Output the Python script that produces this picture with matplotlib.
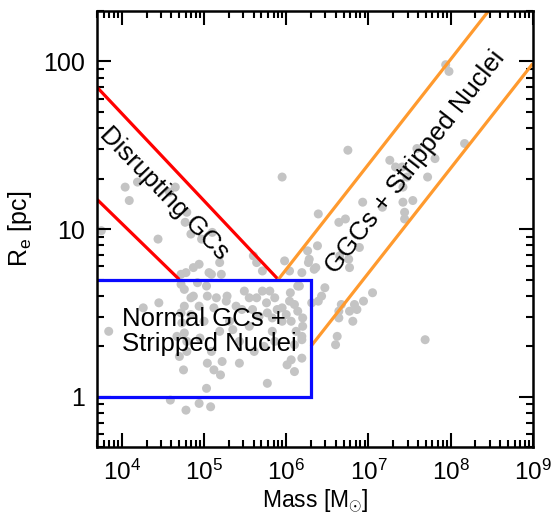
import numpy as np
import matplotlib
matplotlib.use("Agg")
import matplotlib.pyplot as plt
import matplotlib.transforms as mtransforms
from matplotlib.ticker import FixedLocator, FixedFormatter, NullFormatter, LogLocator

plt.rcParams['font.family'] = ['Liberation Sans', 'DejaVu Sans']
plt.rcParams['mathtext.fontset'] = 'custom'
plt.rcParams['mathtext.rm'] = 'Liberation Sans'
plt.rcParams['mathtext.it'] = 'Liberation Sans:italic'
plt.rcParams['mathtext.bf'] = 'Liberation Sans:bold'

# ---- data (log10 mass [Msun], log10 Re [pc]) ----
log_mass = [
    4.04, 4.09, 4.19, 4.65, 4.58, 4.44, 4.79, 4.77, 4.84, 4.97, 5.10, 3.75,
    4.94, 4.78, 4.72, 4.87, 5.95, 5.60, 5.71, 5.09, 5.21, 5.19, 5.06, 5.64,
    5.98, 6.04, 6.28, 6.34,
    6.75, 6.39, 6.64, 6.72, 6.93, 7.26, 7.33, 7.41, 7.59, 7.81, 7.72, 7.47,
    7.42, 7.54, 7.42, 7.44, 7.44, 7.17, 8.17, 7.94, 7.98, 7.69, 6.89, 6.38,
    6.26, 6.27, 6.36, 6.76, 6.77, 6.65, 6.19, 6.47, 6.43, 6.39, 6.31, 6.67,
    6.77, 6.83, 6.94, 7.05, 6.81, 6.64, 6.64, 6.62, 6.60, 6.86,
    6.14, 6.05, 6.04, 6.10, 6.14, 5.95, 6.00, 6.20, 6.20, 6.06, 6.12, 6.19,
    5.86, 5.83, 5.83, 6.16, 6.19, 6.10, 6.06, 6.19, 6.10, 6.01, 5.77,
    4.92, 5.03, 4.72, 4.76, 5.49, 5.71, 5.80, 4.84, 5.04, 5.15, 5.28, 5.27,
    5.55, 5.64, 5.76, 4.76, 4.94, 5.12, 5.39, 5.46, 5.59, 5.77, 5.89, 4.72,
    4.84, 4.73, 4.76, 4.67, 4.79, 4.70, 4.79, 5.09, 5.22, 5.04, 5.12, 5.43,
    4.75, 5.20, 5.03, 3.84, 4.26, 4.45, 4.87,
    4.59, 4.78, 4.94, 5.08,
    5.31, 5.55, 5.67, 5.43, 5.73, 5.19, 5.86, 5.61, 5.95, 5.35, 5.00, 4.95,
]
log_re = [
    1.25, 1.17, 1.28, 1.25, 1.22, 0.94, 1.10, 1.04, 0.97, 0.94, 0.98, 0.99,
    0.79, 0.74, 0.73, 0.77, 1.31, 0.84, 0.75, 0.73, 0.73, 0.80, 0.74, 0.80,
    0.81, 0.75, 0.82, 0.76,
    1.47, 1.09, 1.04, 1.06, 1.16, 1.41, 1.37, 1.37, 1.48, 1.42, 1.31, 1.31,
    1.25, 1.17, 1.16, 1.10, 1.06, 1.13, 1.51, 1.98, 1.94, 0.34, 0.89, 0.90,
    0.87, 0.80, 0.77, 0.82, 0.77, 0.84, 0.74, 0.65, 0.60, 0.57, 0.56, 0.55,
    0.51, 0.55, 0.57, 0.62, 0.45, 0.51, 0.47, 0.36, 0.31, 0.52,
    0.66, 0.62, 0.57, 0.55, 0.51, 0.53, 0.49, 0.47, 0.42, 0.45, 0.39, 0.36,
    0.59, 0.47, 0.39, 0.66, 0.34, 0.31, 0.22, 0.23, 0.15, 0.19, 0.08,
    0.68, 0.66, 0.67, 0.64, 0.63, 0.63, 0.63, 0.59, 0.60, 0.59, 0.60, 0.57,
    0.59, 0.59, 0.56, 0.54, 0.54, 0.53, 0.54, 0.52, 0.52, 0.50, 0.52, 0.50,
    0.49, 0.44, 0.38, 0.36, 0.33, 0.24, 0.27, 0.27, 0.21, 0.20, 0.16, 0.20,
    0.16, 0.13, 0.05, 0.39, 0.53, 0.56, 0.60,
    -0.02, -0.08, -0.04, -0.06,
    0.45, 0.42, 0.48, 0.33, 0.30, 0.39, 0.33, 0.27, 0.45, 0.40, 0.45, 0.35,
]

# region boundaries (mass, Re)
red_upper_mass = [5e3, 8e5]
red_upper_re = [70, 5]
red_lower_mass = [5e3, 5e4]
red_lower_re = [15, 5]
orange_upper_mass = [8e5, 2.9e8]
orange_upper_re = [5, 200]
orange_lower_mass = [2e6, 1e9]
orange_lower_re = [2, 97]
box_mass = [5e3, 2e6, 2e6, 5e3]
box_re = [5, 5, 1, 1]

x_ticks = [1e4, 1e5, 1e6, 1e7, 1e8, 1e9]
x_tick_labels = [r'$10^4$', r'$10^5$', r'$10^6$', r'$10^7$', r'$10^8$', r'$10^9$']
y_ticks = [1, 10, 100]
y_tick_labels = ['1', '10', '100']

mass = 10 ** np.array(log_mass)
re = 10 ** np.array(log_re)

fig = plt.figure(figsize=(5.55, 5.17), dpi=100)
ax = fig.add_axes([0.175, 0.135, 0.785, 0.844])
ax.set_xscale('log')
ax.set_yscale('log')
ax.set_xlim(5e3, 1e9)
ax.set_ylim(0.5, 200)

ax.scatter(mass, re, s=42, color='#c4c4c4', edgecolors='none', zorder=1)

lw = 2.3
ax.plot(red_upper_mass, red_upper_re, color='#ff0000', lw=lw, zorder=2, solid_capstyle='butt')
ax.plot(red_lower_mass, red_lower_re, color='#ff0000', lw=lw, zorder=2, solid_capstyle='butt')
ax.plot(orange_upper_mass, orange_upper_re, color='#ff9a2e', lw=lw, zorder=2, solid_capstyle='butt')
ax.plot(orange_lower_mass, orange_lower_re, color='#ff9a2e', lw=lw, zorder=2, solid_capstyle='butt')
ax.plot(box_mass, box_re, color='#0a0aff', lw=lw, zorder=2, solid_joinstyle='miter')

fs = 18.5
ax.text(1.0e4, 2.45, 'Normal GCs +\nStripped Nuclei', fontsize=fs, ha='left', va='center',
        linespacing=1.05, zorder=3)
ax.text(3.27e4, 16.4, 'Disrupting GCs', fontsize=fs, ha='center', va='center',
        rotation=-46, rotation_mode='anchor', zorder=3)
ax.text(3.77e7, 25.2, 'GGCs + Stripped Nuclei', fontsize=fs, ha='center', va='center',
        rotation=52, rotation_mode='anchor', zorder=3)

ax.xaxis.set_major_locator(FixedLocator(x_ticks))
ax.xaxis.set_major_formatter(FixedFormatter(x_tick_labels))
ax.yaxis.set_major_locator(FixedLocator(y_ticks))
ax.yaxis.set_major_formatter(FixedFormatter(y_tick_labels))
ax.xaxis.set_minor_locator(LogLocator(base=10, subs=np.arange(2, 10), numticks=20))
ax.yaxis.set_minor_locator(LogLocator(base=10, subs=np.arange(2, 10), numticks=20))
ax.xaxis.set_minor_formatter(NullFormatter())
ax.yaxis.set_minor_formatter(NullFormatter())

ax.tick_params(which='both', direction='in', top=True, right=True, width=1.5, colors='black')
ax.tick_params(which='major', length=10)
ax.tick_params(which='minor', length=5)
ax.tick_params(axis='x', which='major', pad=9, labelsize=17.5)
ax.tick_params(axis='y', which='major', pad=9, labelsize=18)
for sp in ax.spines.values():
    sp.set_linewidth(1.8)

ax.set_xlabel(r'Mass [M$_{\odot}$]', fontsize=16.5)
label_tr = mtransforms.blended_transform_factory(ax.transAxes, fig.transFigure)
ax.xaxis.set_label_coords(0.5, 2.0 / 517, transform=label_tr)
ax.xaxis.label.set_verticalalignment('bottom')
ax.set_ylabel(r'R$_{\rm e}$ [pc]', fontsize=18)
ax.yaxis.set_label_coords(-0.145, 0.5)

fig.savefig('out.png', dpi=100)
